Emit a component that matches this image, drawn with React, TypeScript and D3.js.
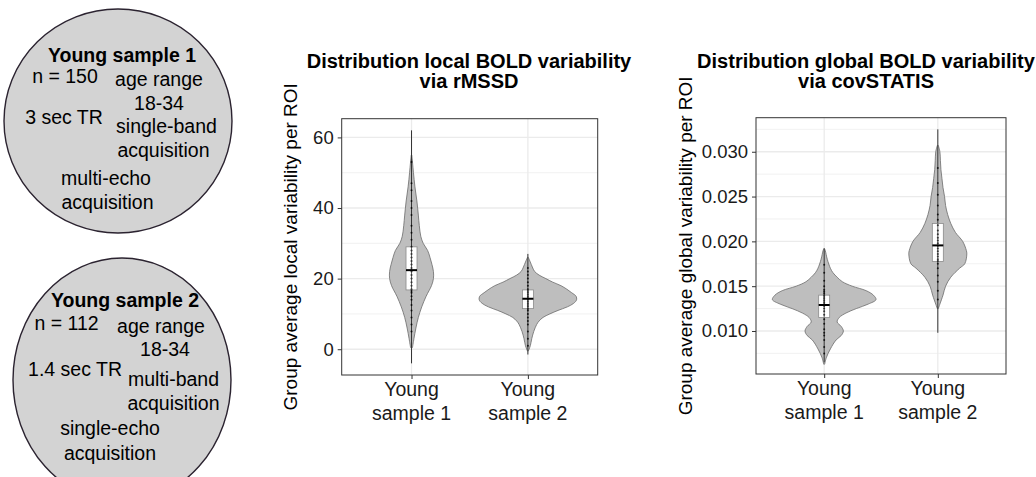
import React, { useRef, useEffect } from "react";
import * as d3 from "d3";

// categories and axis ticks
const categories = ["Young sample 1", "Young sample 2"];
const localTicks = [0, 20, 40, 60];
const localMinor = [10, 30, 50];
const globalTicks = [0.01, 0.015, 0.02, 0.025, 0.03];
const globalMinor = [0.0075, 0.0125, 0.0175, 0.0225, 0.0275, 0.0325];

// local variability (rMSSD): box stats per category
const localMin = [-4, -1.5];
const localQ1 = [16.8, 11.5];
const localMedian = [22.4, 14.3];
const localQ3 = [29.0, 16.8];
const localMax = [62, 27];

// violin density estimates (value, relative density)
const localGrid1 = [0.5, 3, 6, 9, 12, 15, 18, 20, 22, 24, 26, 28, 30, 32, 35, 38, 42, 46, 50, 53, 55];
const localDens1 = [0.02, 0.05, 0.09, 0.14, 0.21, 0.3, 0.41, 0.45, 0.45, 0.42, 0.38, 0.33, 0.24, 0.19, 0.16, 0.14, 0.11, 0.07, 0.04, 0.02, 0.006];
const localGrid2 = [-0.5, 1, 3, 5, 7, 8, 9, 10, 11, 12, 13, 14, 15, 16, 17, 18, 19, 20, 21, 22, 23, 24, 25, 26];
const localDens2 = [0.01, 0.05, 0.08, 0.12, 0.18, 0.23, 0.31, 0.45, 0.62, 0.81, 0.94, 1.0, 0.99, 0.9, 0.8, 0.68, 0.51, 0.37, 0.23, 0.14, 0.1, 0.07, 0.04, 0.01];

// ROI points
const localPoints1 = [5, 7, 9, 11, 12.5, 14, 15, 16, 16.5, 17, 18, 19, 20, 21, 22, 23, 24, 25, 26, 27, 28, 29, 31, 33, 35, 38, 40, 42, 45, 47, 53];
const localPoints2 = [1, 3, 5, 7, 8, 9, 10, 11, 11.5, 12, 12.5, 13, 13.5, 14, 14.5, 15, 15.5, 16, 16.5, 17, 18, 19, 20, 21, 22, 23];

// global variability (covSTATIS)
const globalMin = [0.0065, 0.0098];
const globalQ1 = [0.0115, 0.01775];
const globalMedian = [0.0129, 0.01955];
const globalQ3 = [0.014, 0.022];
const globalMax = [0.0192, 0.0325];

const globalGrid1 = [0.0063, 0.007, 0.008, 0.009, 0.0095, 0.01, 0.0105, 0.011, 0.0115, 0.012, 0.0125, 0.013, 0.0135, 0.014, 0.0145, 0.015, 0.0155, 0.016, 0.0165, 0.017, 0.018, 0.019, 0.0192];
const globalDens1 = [0.01, 0.04, 0.12, 0.23, 0.33, 0.37, 0.33, 0.25, 0.29, 0.42, 0.62, 0.85, 1.0, 0.95, 0.81, 0.54, 0.35, 0.25, 0.17, 0.12, 0.06, 0.02, 0.006];
const globalGrid2 = [0.0125, 0.013, 0.014, 0.015, 0.016, 0.017, 0.0175, 0.0186, 0.019, 0.02, 0.021, 0.022, 0.023, 0.024, 0.025, 0.026, 0.027, 0.028, 0.029, 0.03, 0.0307];
const globalDens2 = [0.01, 0.04, 0.1, 0.15, 0.25, 0.42, 0.52, 0.56, 0.55, 0.48, 0.34, 0.25, 0.19, 0.15, 0.13, 0.1, 0.08, 0.06, 0.05, 0.04, 0.01];

const globalPoints1 = [0.0075, 0.0082, 0.009, 0.0095, 0.0098, 0.0102, 0.0108, 0.0113, 0.0118, 0.0122, 0.0125, 0.0128, 0.013, 0.0132, 0.0134, 0.0136, 0.0138, 0.014, 0.0142, 0.0144, 0.0146, 0.015, 0.0156, 0.0165, 0.0174];
const globalPoints2 = [0.0135, 0.0145, 0.0155, 0.0162, 0.017, 0.0175, 0.0178, 0.018, 0.0183, 0.0186, 0.0189, 0.0192, 0.0195, 0.0198, 0.0201, 0.0204, 0.0208, 0.0212, 0.0218, 0.0224, 0.023, 0.024, 0.0252, 0.0265, 0.0282];

const FONT = "'Liberation Sans', Arial, sans-serif";

const Panel = (props) => {
	const ref = useRef(null);

	useEffect(() => {
		const svg = d3.select(ref.current);
		svg.selectAll("*").remove();
		const { left, right, top, bottom } = props;

		// y scale with ggplot style 5% expansion
		const lo = d3.min(props.mins);
		const hi = d3.max(props.maxs);
		const pad = (hi - lo) * 0.05;
		const y = d3.scaleLinear().domain([lo - pad, hi + pad]).range([bottom, top]);
		const x = d3.scalePoint().domain(categories).range([left, right]).padding(0.6);
		const w = d3.scaleLinear().domain([0, 1]).range([0, props.maxHalf]);

		// grid
		svg.append("g").selectAll("line").data(props.minor).join("line")
			.attr("x1", left).attr("x2", right)
			.attr("y1", d => y(d)).attr("y2", d => y(d))
			.attr("stroke", "#ebebeb").attr("stroke-width", 0.7);
		svg.append("g").selectAll("line").data(props.ticks).join("line")
			.attr("x1", left).attr("x2", right)
			.attr("y1", d => y(d)).attr("y2", d => y(d))
			.attr("stroke", "#ebebeb").attr("stroke-width", 1.3);
		svg.append("g").selectAll("line").data(categories).join("line")
			.attr("x1", d => x(d)).attr("x2", d => x(d))
			.attr("y1", top).attr("y2", bottom)
			.attr("stroke", "#ebebeb").attr("stroke-width", 1.3);

		categories.forEach((c, i) => {
			const cx = x(c);
			const pts = props.grids[i].map((v, j) => [v, props.dens[i][j]]);
			const area = d3.area()
				.y(d => y(d[0]))
				.x0(d => cx - w(d[1]))
				.x1(d => cx + w(d[1]))
				.curve(d3.curveCatmullRom);
			svg.append("path").attr("d", area(pts))
				.attr("fill", "#bebebe").attr("stroke", "#6b6b6b").attr("stroke-width", 0.8);

			// full range line
			svg.append("line")
				.attr("x1", cx).attr("x2", cx)
				.attr("y1", y(props.mins[i])).attr("y2", y(props.maxs[i]))
				.attr("stroke", "#333").attr("stroke-width", 1);

			// box
			const bw = 11;
			svg.append("rect")
				.attr("x", cx - bw / 2).attr("width", bw)
				.attr("y", y(props.q3[i])).attr("height", y(props.q1[i]) - y(props.q3[i]))
				.attr("fill", "#fff").attr("stroke", "#8a8a8a").attr("stroke-width", 0.8);

			// points
			svg.append("g").selectAll("circle").data(props.points[i]).join("circle")
				.attr("cx", cx).attr("cy", d => y(d)).attr("r", 1)
				.attr("fill", "#000").attr("opacity", 0.8);

			svg.append("line")
				.attr("x1", cx).attr("x2", cx)
				.attr("y1", y(props.q1[i])).attr("y2", y(props.q3[i]))
				.attr("stroke", "#333").attr("stroke-width", 0.8);

			// median
			svg.append("line")
				.attr("x1", cx - bw / 2).attr("x2", cx + bw / 2)
				.attr("y1", y(props.medians[i])).attr("y2", y(props.medians[i]))
				.attr("stroke", "#000").attr("stroke-width", 2);
		});

		// panel border
		svg.append("rect")
			.attr("x", left).attr("y", top).attr("width", right - left).attr("height", bottom - top)
			.attr("fill", "none").attr("stroke", "#333").attr("stroke-width", 1);

		// axes
		const axisY = d3.axisLeft(y).tickValues(props.ticks).tickFormat(props.fmt).tickSize(4).tickPadding(4);
		const gy = svg.append("g").attr("transform", `translate(${left},0)`).call(axisY);
		gy.select(".domain").remove();
		gy.selectAll("line").attr("stroke", "#333");
		gy.selectAll("text").attr("font-size", 18.5).attr("font-family", FONT).attr("fill", "#1a1a1a");

		const axisX = d3.axisBottom(x).tickSize(4).tickFormat(() => "");
		const gx = svg.append("g").attr("transform", `translate(0,${bottom})`).call(axisX);
		gx.select(".domain").remove();
		gx.selectAll("line").attr("stroke", "#333");

		categories.forEach(c => {
			const parts = ["Young", c.replace("Young ", "")];
			parts.forEach((p, k) => {
				svg.append("text")
					.attr("x", x(c)).attr("y", bottom + 21 + k * 24)
					.attr("text-anchor", "middle")
					.attr("font-size", 19.5).attr("font-family", FONT).attr("fill", "#1a1a1a")
					.text(p);
			});
		});

		// titles
		props.title.forEach((t, k) => {
			svg.append("text")
				.attr("x", props.titleX).attr("y", 67.5 + k * 20)
				.attr("text-anchor", "middle").attr("font-weight", "bold")
				.attr("font-size", 20).attr("font-family", FONT).attr("fill", "#000")
				.text(t);
		});

		svg.append("text")
			.attr("transform", `translate(${props.yTitleX},${(top + bottom) / 2}) rotate(-90)`)
			.attr("text-anchor", "middle")
			.attr("font-size", 19).attr("font-family", FONT).attr("fill", "#000")
			.text(props.yTitle);
	});

	return <g ref={ref}></g>;
};

const Bubble = (props) => (
	<g>
		<ellipse cx={props.cx} cy={props.cy} rx={props.rx} ry={props.ry}
			fill="#d3d3d3" stroke="#2b2330" strokeWidth={1.4} />
		{props.lines.map((l, i) => (
			<text key={i} x={l[1]} y={l[2]} textAnchor="middle" fontSize={19.5}
				fontFamily={FONT} fontWeight={l[3] ? "bold" : "normal"} fill="#000">{l[0]}</text>
		))}
	</g>
);

const App = () => {
	return (
		<svg width={1036} height={477} style={{ position: "absolute", left: 0, top: 0, background: "#fff" }}>
			<Bubble cx={118} cy={121} rx={114} ry={112} lines={[
				["Young sample 1", 122, 62, true],
				["n = 150", 65, 83],
				["age range", 159, 86],
				["18-34", 159, 110],
				["3 sec TR", 64, 124],
				["single-band", 166.5, 133],
				["acquisition", 163.5, 157],
				["multi-echo", 106, 185],
				["acquisition", 107.5, 209],
			]} />
			<Bubble cx={122} cy={380} rx={109} ry={122} lines={[
				["Young sample 2", 125, 307, true],
				["n = 112", 66.5, 330],
				["age range", 161, 333],
				["18-34", 165, 356],
				["1.4 sec TR", 75, 376],
				["multi-band", 173.5, 386],
				["acquisition", 173.5, 410],
				["single-echo", 110, 435],
				["acquisition", 110, 460],
			]} />
			<Panel left={341.7} right={597.7} top={118.7} bottom={375}
				mins={localMin} maxs={localMax} q1={localQ1} q3={localQ3} medians={localMedian}
				grids={[localGrid1, localGrid2]} dens={[localDens1, localDens2]}
				points={[localPoints1, localPoints2]} maxHalf={48.7}
				ticks={localTicks} minor={localMinor} fmt={d3.format("d")}
				title={["Distribution local BOLD variability", "via rMSSD"]} titleX={469}
				yTitle="Group average local variability per ROI" yTitleX={297} />
			<Panel left={756} right={1006} top={117.7} bottom={374}
				mins={globalMin} maxs={globalMax} q1={globalQ1} q3={globalQ3} medians={globalMedian}
				grids={[globalGrid1, globalGrid2]} dens={[globalDens1, globalDens2]}
				points={[globalPoints1, globalPoints2]} maxHalf={51.8}
				ticks={globalTicks} minor={globalMinor} fmt={d3.format(".3f")}
				title={["Distribution global BOLD variability", "via covSTATIS"]} titleX={866}
				yTitle="Group average global variability per ROI" yTitleX={692} />
		</svg>
	);
};

export default App;
